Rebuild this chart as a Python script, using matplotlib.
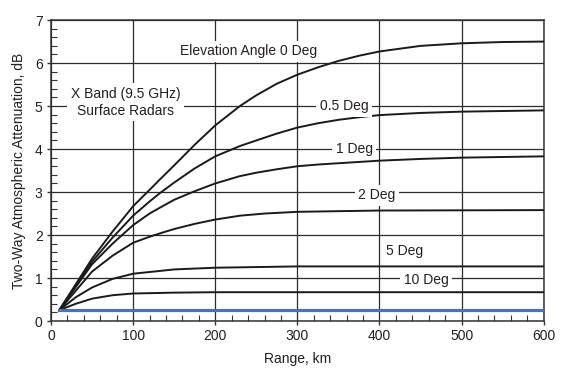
import matplotlib.pyplot as plt
from matplotlib.ticker import MultipleLocator

plt.rcParams["font.family"] = ["Liberation Sans", "DejaVu Sans"]

# ---------------------------------------------------------------------------
# Data (range in km, attenuation in dB)
# ---------------------------------------------------------------------------

range_0 = [10, 50, 75, 100, 120, 133, 150, 175, 200, 230, 250, 275, 300, 325, 350, 375, 400, 450, 500, 550, 600]
atten_0 = [0.25, 1.45, 2.08, 2.67, 3.05, 3.30, 3.62, 4.10, 4.55, 5.00, 5.25, 5.52, 5.73, 5.90, 6.05, 6.17, 6.27, 6.40, 6.46, 6.49, 6.50]

range_05 = [10, 50, 75, 100, 120, 133, 150, 175, 200, 230, 250, 275, 300, 325, 350, 375, 400, 450, 500, 600]
atten_05 = [0.25, 1.38, 1.94, 2.45, 2.78, 2.98, 3.22, 3.55, 3.83, 4.07, 4.20, 4.36, 4.50, 4.60, 4.68, 4.74, 4.79, 4.84, 4.87, 4.90]

range_1 = [10, 50, 75, 100, 120, 133, 150, 175, 200, 230, 250, 275, 300, 325, 350, 400, 450, 500, 600]
atten_1 = [0.25, 1.32, 1.80, 2.23, 2.50, 2.64, 2.82, 3.02, 3.20, 3.37, 3.45, 3.53, 3.60, 3.64, 3.67, 3.73, 3.77, 3.80, 3.83]

range_2 = [10, 50, 75, 100, 120, 133, 150, 175, 200, 230, 260, 300, 400, 600]
atten_2 = [0.25, 1.15, 1.52, 1.82, 1.96, 2.04, 2.14, 2.26, 2.36, 2.45, 2.50, 2.54, 2.57, 2.58]

range_5 = [10, 30, 50, 75, 100, 150, 200, 300, 600]
atten_5 = [0.25, 0.55, 0.78, 0.98, 1.10, 1.20, 1.24, 1.27, 1.27]

range_10 = [10, 30, 50, 75, 100, 150, 200, 600]
atten_10 = [0.25, 0.40, 0.52, 0.60, 0.64, 0.66, 0.67, 0.67]

# flat baseline (blue)
range_base = [10, 600]
atten_base = [0.25, 0.25]

curves = [
    (range_0, atten_0),
    (range_05, atten_05),
    (range_1, atten_1),
    (range_2, atten_2),
    (range_5, atten_5),
    (range_10, atten_10),
]

# label text, x, y
curve_labels = [
    ("Elevation Angle 0 Deg", 241, 6.28),
    ("0.5 Deg", 357, 5.0),
    ("1 Deg", 369, 4.0),
    ("2 Deg", 397, 2.93),
    ("5 Deg", 430, 1.62),
    ("10 Deg", 457, 0.96),
]

TEXT = "#231f20"

fig = plt.figure(figsize=(5.69, 3.79), dpi=100)
ax = fig.add_axes([0.0896, 0.153, 0.866, 0.794])

for xs, ys in curves:
    ax.plot(xs, ys, color="#1a1a1a", lw=1.4, zorder=3, solid_capstyle="round",
            solid_joinstyle="round")
ax.plot(range_base, atten_base, color="#4472c4", lw=2.3, zorder=4)

box = dict(boxstyle="square,pad=0.25", facecolor="white", edgecolor="none")
for text, x, y in curve_labels:
    ax.text(x, y, text, ha="center", va="center", fontsize=10, color=TEXT,
            bbox=box, zorder=5)
ax.text(91, 5.09, "X Band (9.5 GHz)\nSurface Radars", ha="center", va="center",
        fontsize=10, color=TEXT, linespacing=1.25, bbox=box, zorder=5)

ax.set_xlim(0, 600)
ax.set_ylim(0, 7)
ax.xaxis.set_major_locator(MultipleLocator(100))
ax.xaxis.set_minor_locator(MultipleLocator(20))
ax.yaxis.set_major_locator(MultipleLocator(1))
ax.yaxis.set_minor_locator(MultipleLocator(0.2))
ax.grid(which="major", color="#2b2b2b", lw=0.9, zorder=1)
ax.tick_params(which="major", direction="out", length=3, width=1, colors="#333333",
               labelcolor=TEXT, labelsize=10, pad=3)
ax.tick_params(which="minor", direction="in", length=4, width=0.8, colors="#333333")
for spine in ax.spines.values():
    spine.set_color("#333333")
    spine.set_linewidth(1.1)

ax.set_xlabel("Range, km", fontsize=10, color=TEXT, labelpad=6)
ax.set_ylabel("Two-Way Atmospheric Attenuation, dB", fontsize=10, color=TEXT, labelpad=6)

fig.savefig("out.png", dpi=100)
